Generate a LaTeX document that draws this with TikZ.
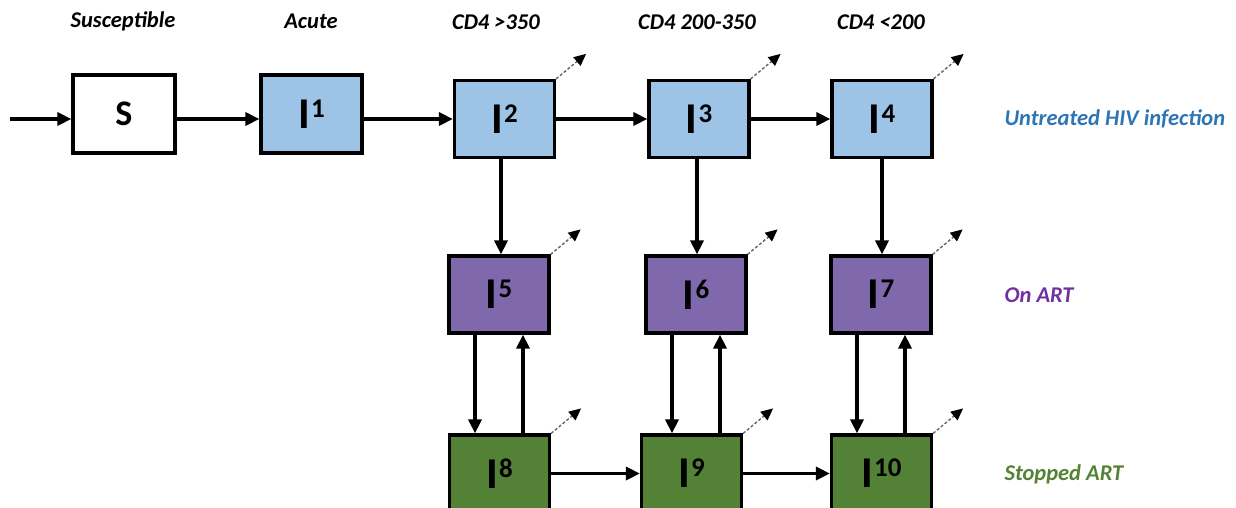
\documentclass[tikz,border=0pt]{standalone}
\usepackage{fontspec}
\setmainfont{Carlito}
\usetikzlibrary{arrows.meta}
\definecolor{untreated}{HTML}{9DC3E6}
\definecolor{onart}{HTML}{7F68AB}
\definecolor{stopped}{HTML}{538135}
\definecolor{untreatedtxt}{HTML}{2E75B6}
\definecolor{onarttxt}{HTML}{7030A0}
\definecolor{stoppedtxt}{HTML}{548235}
\tikzset{
  comp/.style={draw=black, line width=3.2pt, rectangle, inner sep=0pt,
    minimum width=100pt, minimum height=77pt},
  flow/.style={draw=black, line width=3.4pt, -{Triangle[length=14pt,width=13pt]}},
  exit/.style={draw=gray!80!black, line width=1.4pt, dash pattern=on 3pt off 2pt,
    -{Triangle[length=12pt,width=11pt,color=black]}},
  stage/.style={font=\fontsize{22.5}{22.5}\selectfont\bfseries\itshape, anchor=center},
  group/.style={font=\fontsize{22.5}{22.5}\selectfont\bfseries\itshape, anchor=west}
}
\newcommand{\comptext}[1]{{\fontsize{44}{44}\selectfont\bfseries I\kern1pt\fontsize{27}{27}\selectfont\raisebox{11pt}{#1}}}
\begin{document}
\begin{tikzpicture}[x=1pt,y=-1pt]
\useasboundingbox (0,0) rectangle (1236,508);

% stage headings
\node[stage] (hS) at (123,21) {Susceptible};
\node[stage] (hA) at (311,21) {Acute};
\node[stage] (h2) at (496,22) {CD4 >350};
\node[stage] (h3) at (697,22) {CD4 200-350};
\node[stage] (h4) at (881,22) {CD4 <200};

% compartments
\node[comp, fill=white, minimum width=102pt, minimum height=78pt] (S) at (124,114)
  {\fontsize{36}{36}\selectfont\bfseries S};
\node[comp, fill=untreated, minimum width=101pt, minimum height=78pt] (I1) at (311.5,114) {\comptext{1}};
\node[comp, fill=untreated] (I2) at (504.5,119) {\comptext{2}};
\node[comp, fill=untreated] (I3) at (699,119) {\comptext{3}};
\node[comp, fill=untreated] (I4) at (882,119) {\comptext{4}};

\node[comp, fill=onart] (I5) at (499,294.5) {\comptext{5}};
\node[comp, fill=onart] (I6) at (696,294.5) {\comptext{6}};
\node[comp, fill=onart] (I7) at (881,294.5) {\comptext{7}};

\node[comp, fill=stopped] (I8) at (499.5,473.5) {\comptext{8}};
\node[comp, fill=stopped] (I9) at (691.5,473.5) {\comptext{9}};
\node[comp, fill=stopped] (I10) at (881.5,473.5) {\comptext{10}};

% group labels
\node[group, text=untreatedtxt] (gU) at (1001,119) {Untreated HIV infection};
\node[group, text=onarttxt] (gO) at (1001,295) {On ART};
\node[group, text=stoppedtxt] (gS) at (1001,474) {Stopped ART};

% entry and progression along the untreated row
\coordinate (entry) at (10,119);
\draw[flow] (entry) -- (entry -| S.west);
\draw[flow] (S.east |- entry) -- (I1.west |- entry);
\draw[flow] (I1.east |- entry) -- (I2.west);
\draw[flow] (I2.east) -- (I3.west);
\draw[flow] (I3.east) -- (I4.west);

% ART initiation
\draw[flow] ([xshift=-3.5pt]I2.south) -- ([xshift=-3.5pt]I2.south |- I5.north);
\draw[flow] ([xshift=-2pt]I3.south) -- ([xshift=-2pt]I3.south |- I6.north);
\draw[flow] (I4.south) -- (I4.south |- I7.north);

% stopping and restarting ART
\foreach \a/\b in {I5/I8, I6/I9, I7/I10}{
  \draw[flow] ([xshift=-24pt]\a.south) -- ([xshift=-24pt]\a.south |- \b.north);
  \draw[flow] ([xshift=24pt]\a.south |- \b.north) -- ([xshift=24pt]\a.south);
}

% progression while off ART
\draw[flow] (I8.east) -- (I9.west);
\draw[flow] (I9.east) -- (I10.west);

% mortality exits
\foreach \n in {I2,I3,I4,I5,I6,I7,I8,I9,I10}{
  \draw[exit] (\n.north east) -- ++(30,-25);
}
\end{tikzpicture}
\end{document}
